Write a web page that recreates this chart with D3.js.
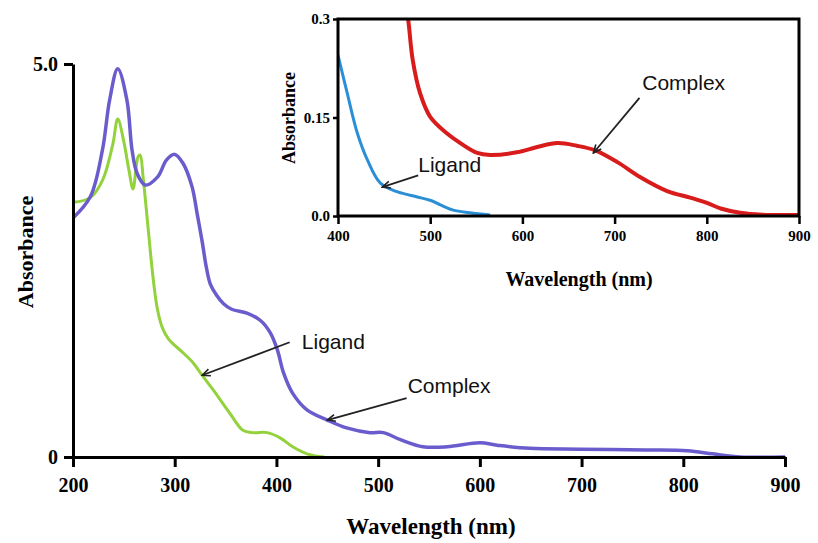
<!DOCTYPE html>
<html>
<head>
<meta charset="utf-8">
<script src="https://cdn.jsdelivr.net/npm/d3@7"></script>
<style>
  body { margin: 0; background: #fff; }
  svg { display: block; }
</style>
</head>
<body>
<svg id="chart"></svg>
<script>
// main spectrum (200-900 nm)
let complexWl = [200, 217, 229, 236, 244, 253, 258, 263, 271, 283, 292, 300, 308, 317, 322, 327, 331, 335, 341, 348, 356, 371, 384, 394, 401, 407, 416, 430, 450, 469, 492, 505, 522, 544, 568, 600, 617, 649, 699, 764, 804, 829, 856, 900];
let complexAbs = [3.04, 3.31, 3.91, 4.54, 4.94, 4.54, 3.91, 3.61, 3.46, 3.56, 3.78, 3.85, 3.74, 3.44, 3.10, 2.74, 2.42, 2.20, 2.06, 1.95, 1.88, 1.83, 1.74, 1.58, 1.36, 1.07, 0.81, 0.60, 0.47, 0.37, 0.31, 0.31, 0.22, 0.13, 0.13, 0.18, 0.15, 0.11, 0.10, 0.09, 0.08, 0.04, 0.0, 0.0];
let ligandWl = [200, 217, 229, 239, 244, 250, 255, 259, 264, 266, 269, 274, 279, 283, 288, 294, 300, 307, 318, 327, 338, 354, 367, 377, 391, 404, 416, 430, 447];
let ligandAbs = [3.24, 3.30, 3.52, 3.97, 4.30, 4.01, 3.65, 3.41, 3.82, 3.84, 3.55, 2.89, 2.25, 1.88, 1.64, 1.50, 1.42, 1.34, 1.20, 1.04, 0.85, 0.56, 0.34, 0.31, 0.31, 0.24, 0.13, 0.04, 0.0];

// inset (400-900 nm)
let insetComplexWl = [472, 476, 481, 489, 500, 518, 536, 551, 565, 594, 616, 638, 659, 679, 703, 728, 757, 782, 800, 816, 836, 860, 899];
let insetComplexAbs = [0.33, 0.30, 0.238, 0.187, 0.151, 0.126, 0.108, 0.096, 0.093, 0.097, 0.105, 0.111, 0.107, 0.100, 0.082, 0.059, 0.038, 0.028, 0.020, 0.011, 0.005, 0.002, 0.0015];
let insetLigandWl = [400, 410, 421, 432, 446, 464, 486, 500, 511, 525, 543, 565];
let insetLigandAbs = [0.245, 0.187, 0.126, 0.085, 0.050, 0.037, 0.029, 0.024, 0.017, 0.009, 0.005, 0.0015];

let mainXTicks = [200, 300, 400, 500, 600, 700, 800, 900];
let mainYTicks = [0, 5];
let insetXTicks = [400, 500, 600, 700, 800, 900];
let insetYTicks = [0, 0.15, 0.3];

let complexColor = '#6a5ccc';
let ligandColor = '#93d23c';
let insetComplexColor = '#d81c1c';
let insetLigandColor = '#2b8fd6';

let svg = d3.select('#chart').attr('width', 818).attr('height', 543);
svg.append('rect').attr('width', 818).attr('height', 543).attr('fill', '#fff');

let defs = svg.append('defs');
defs.append('marker')
    .attr('id', 'arrow')
    .attr('viewBox', '0 0 10 10')
    .attr('refX', 9).attr('refY', 5)
    .attr('markerWidth', 10).attr('markerHeight', 10)
    .attr('markerUnits', 'userSpaceOnUse')
    .attr('orient', 'auto')
    .append('path')
    .attr('d', 'M1,1.5 L9,5 L1,8.5')
    .attr('fill', 'none')
    .attr('stroke', '#222')
    .attr('stroke-width', 1.6);

let serif = '"Liberation Serif", "Times New Roman", serif';
let sans = '"Liberation Sans", Arial, sans-serif';

function zip(xs, ys) {
    return xs.map(function (d, i) { return [d, ys[i]]; });
}

/** main chart **/
let x = d3.scaleLinear().domain([200, 900]).range([73, 785]);
let y = d3.scaleLinear().domain([0, 5]).range([457, 64]);

let line = d3.line()
    .x(function (d) { return x(d[0]); })
    .y(function (d) { return y(d[1]); })
    .curve(d3.curveCatmullRom.alpha(0.5));

let main = svg.append('g');

main.append('path').datum(zip(ligandWl, ligandAbs))
    .attr('d', line).attr('fill', 'none')
    .attr('stroke', ligandColor).attr('stroke-width', 3);
main.append('path').datum(zip(complexWl, complexAbs))
    .attr('d', line).attr('fill', 'none')
    .attr('stroke', complexColor).attr('stroke-width', 3.5);

let xAxis = d3.axisBottom(x).tickValues(mainXTicks).tickSize(10).tickSizeOuter(0).tickPadding(11);
let yAxis = d3.axisLeft(y).tickValues(mainYTicks).tickSize(9).tickSizeOuter(0).tickPadding(6)
    .tickFormat(function (d) { return d === 0 ? '0' : d.toFixed(1); });

let gx = main.append('g').attr('transform', 'translate(0,' + y(0) + ')').call(xAxis);
let gy = main.append('g').attr('transform', 'translate(' + x(200) + ',0)').call(yAxis);
[gx, gy].forEach(function (g) {
    g.select('.domain').attr('stroke', '#000').attr('stroke-width', 3);
    g.selectAll('.tick line').attr('stroke', '#000').attr('stroke-width', 3);
    g.selectAll('text').attr('fill', '#000')
        .style('font-family', serif).style('font-weight', 'bold').style('font-size', '20px');
});

main.append('text')
    .attr('transform', 'translate(33,252) rotate(-90)')
    .attr('text-anchor', 'middle')
    .style('font-family', serif).style('font-weight', 'bold').style('font-size', '22px')
    .text('Absorbance');
main.append('text')
    .attr('x', 431).attr('y', 534)
    .attr('text-anchor', 'middle')
    .style('font-family', serif).style('font-weight', 'bold').style('font-size', '23px')
    .text('Wavelength (nm)');

// annotations (data units)
function annotate(sx, sy, tail, tip, label, at) {
    svg.append('line')
        .attr('x1', sx(tail[0])).attr('y1', sy(tail[1]))
        .attr('x2', sx(tip[0])).attr('y2', sy(tip[1]))
        .attr('stroke', '#222').attr('stroke-width', 1.8)
        .attr('marker-end', 'url(#arrow)');
    svg.append('text')
        .attr('x', sx(at[0])).attr('y', sy(at[1]))
        .style('font-family', sans).style('font-size', '21px').attr('fill', '#111')
        .text(label);
}

annotate(x, y, [413, 1.46], [327, 1.04], 'Ligand', [425, 1.37]);
annotate(x, y, [528, 0.75], [450, 0.47], 'Complex', [529, 0.81]);

/** inset **/
let xi = d3.scaleLinear().domain([400, 900]).range([338, 799]);
let yi = d3.scaleLinear().domain([0, 0.3]).range([216, 19]);

let lineInset = d3.line()
    .x(function (d) { return xi(d[0]); })
    .y(function (d) { return yi(d[1]); })
    .curve(d3.curveCatmullRom.alpha(0.5));

defs.append('clipPath').attr('id', 'insetClip')
    .append('rect')
    .attr('x', xi(400)).attr('y', yi(0.3))
    .attr('width', xi(900) - xi(400)).attr('height', yi(0) - yi(0.3));

let inset = svg.append('g');
inset.append('rect')
    .attr('x', xi(400)).attr('y', yi(0.3))
    .attr('width', xi(900) - xi(400)).attr('height', yi(0) - yi(0.3))
    .attr('fill', '#fff');

let plots = inset.append('g').attr('clip-path', 'url(#insetClip)');
plots.append('path').datum(zip(insetLigandWl, insetLigandAbs))
    .attr('d', lineInset).attr('fill', 'none')
    .attr('stroke', insetLigandColor).attr('stroke-width', 3);
plots.append('path').datum(zip(insetComplexWl, insetComplexAbs))
    .attr('d', lineInset).attr('fill', 'none')
    .attr('stroke', insetComplexColor).attr('stroke-width', 4);

inset.append('rect')
    .attr('x', xi(400)).attr('y', yi(0.3))
    .attr('width', xi(900) - xi(400)).attr('height', yi(0) - yi(0.3))
    .attr('fill', 'none').attr('stroke', '#000').attr('stroke-width', 3);

let xiAxis = d3.axisBottom(xi).tickValues(insetXTicks).tickSize(8).tickSizeOuter(0).tickPadding(6);
let yiAxis = d3.axisLeft(yi).tickValues(insetYTicks).tickSize(5).tickSizeOuter(0).tickPadding(3)
    .tickFormat(function (d) { return d === 0.15 ? '0.15' : d.toFixed(1); });

let gxi = inset.append('g').attr('transform', 'translate(0,' + yi(0) + ')').call(xiAxis);
let gyi = inset.append('g').attr('transform', 'translate(' + xi(400) + ',0)').call(yiAxis);
[gxi, gyi].forEach(function (g) {
    g.select('.domain').remove();
    g.selectAll('.tick line').attr('stroke', '#000').attr('stroke-width', 2.5);
    g.selectAll('text').attr('fill', '#000')
        .style('font-family', serif).style('font-weight', 'bold').style('font-size', '15px');
});

inset.append('text')
    .attr('transform', 'translate(295,118) rotate(-90)')
    .attr('text-anchor', 'middle')
    .style('font-family', serif).style('font-weight', 'bold').style('font-size', '18px')
    .text('Absorbance');
inset.append('text')
    .attr('x', 579).attr('y', 286)
    .attr('text-anchor', 'middle')
    .style('font-family', serif).style('font-weight', 'bold').style('font-size', '20px')
    .text('Wavelength (nm)');

annotate(xi, yi, [487, 0.062], [448, 0.044], 'Ligand', [487, 0.067]);
annotate(xi, yi, [727, 0.180], [677, 0.096], 'Complex', [730, 0.192]);
</script>
</body>
</html>
